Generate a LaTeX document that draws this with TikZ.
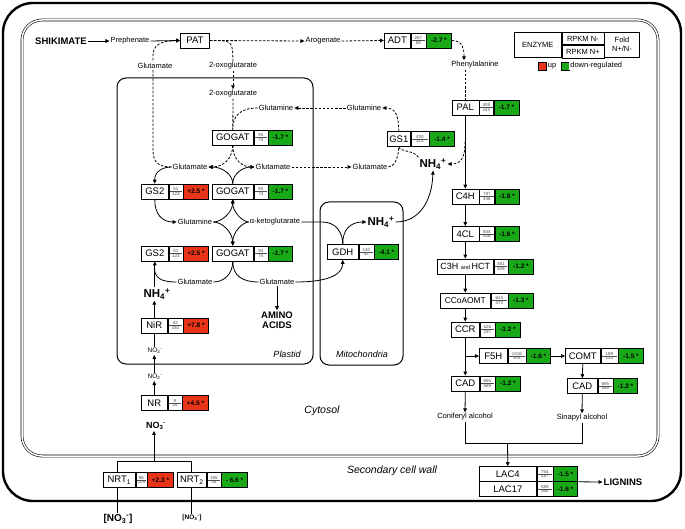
\documentclass[tikz,border=0pt]{standalone}
\usepackage{fontspec}
\setmainfont{Liberation Sans}
\usetikzlibrary{arrows.meta,positioning,calc}
\pgfdeclarelayer{bg}
\pgfsetlayers{bg,main}
\definecolor{upred}{RGB}{232,52,24}
\definecolor{dngreen}{RGB}{24,168,24}
\definecolor{numgray}{RGB}{80,80,80}
\tikzset{
 ebox/.style={draw, fill=white, line width=0.6pt, minimum height=15pt, inner sep=0pt, font=\fontsize{9.5}{10}\selectfont},
 fbox/.style={draw, line width=0.6pt, minimum height=15pt, inner sep=0pt, font=\fontsize{6.5}{7}\selectfont\bfseries},
 numt/.style={inner sep=0pt, font=\fontsize{4.5}{5}\selectfont, text=numgray},
 lbl/.style={inner sep=1pt, fill=white, font=\fontsize{7.5}{8}\selectfont},
 arr/.style={-{Triangle[length=4pt,width=3.6pt]}, line width=0.8pt},
 ln/.style={line width=0.8pt},
 dsh/.style={dash pattern=on 2.5pt off 1.6pt},
 bigb/.style={font=\fontsize{9.5}{10}\selectfont\bfseries, inner sep=1pt},
 nhb/.style={font=\fontsize{11.5}{12}\selectfont\bfseries, inner sep=1pt},
 compa/.style={font=\fontsize{9}{10}\selectfont\itshape, inner sep=1pt},
 compb/.style={font=\fontsize{10.5}{11}\selectfont\itshape, inner sep=1pt},
 legc/.style={draw, line width=0.6pt, inner sep=0pt, anchor=north west, font=\fontsize{7.5}{9}\selectfont, align=center}
}
\newcommand{\enz}[9]{%
  \node[ebox, minimum width=#4pt, anchor=west] (#1) at (#2,#3) {#7};
  \node[ebox, minimum width=#5pt, anchor=west] (#1n) at (#1.east) {};
  \node[fbox, fill=#9, minimum width=#6pt, anchor=west] (#1f) at (#1n.east) {#8};}
\newcommand{\nums}[3]{%
  \draw[line width=0.35pt, numgray] ([xshift=1.2pt]#1n.west) -- ([xshift=-1.2pt]#1n.east);
  \node[numt, anchor=south] (#1a) at ([yshift=0.5pt]#1n.center) {#2};
  \node[numt, anchor=north] (#1b) at ([yshift=-0.5pt]#1n.center) {#3};}
\newcommand{\ssb}[2]{\textsubscript{#1}\textsuperscript{#2}}
\begin{document}
\begin{tikzpicture}[x=1pt,y=-1pt]
\useasboundingbox (0,0) rectangle (685,529);

% ---------- top row ----------
\node[bigb] (shik) at (61,41) {SHIKIMATE};
\node[lbl] (preph) at (130,41) {Prephenate};
\node[ebox, minimum width=29pt] (pat) at (195,40.5) {PAT};
\node[lbl] (arog) at (323,41) {Arogenate};
\enz{adt}{384}{40.5}{26}{15}{25}{ADT}{-2.7 *}{dngreen}\nums{adt}{267}{58}
\node[lbl] (phe) at (475,65) {Phenylalanine};

% ---------- legend ----------
\node[legc, minimum width=47pt, minimum height=25pt] (legE) at (514,32) {ENZYME};
\node[legc, minimum width=42pt, minimum height=12.5pt] (legR1) at (legE.north east) {RPKM N-};
\node[legc, minimum width=42pt, minimum height=12.5pt] (legR2) at (legR1.south west) {RPKM N+};
\node[legc, minimum width=35pt, minimum height=25pt] (legF) at (legR1.north east) {Fold\\N+/N-};
\node[draw, fill=upred, minimum size=8pt, inner sep=0pt, line width=0.4pt] (squp) at (542.5,66) {};
\node[lbl, anchor=west] (uplbl) at (squp.east) {up};
\node[draw, fill=dngreen, minimum size=8pt, inner sep=0pt, line width=0.4pt] (sqdn) at (565,66) {};
\node[lbl, anchor=west] (dnlbl) at (sqdn.east) {down-regulated};

% ---------- phenylpropanoid column ----------
\enz{pal}{451.5}{107.5}{27}{14}{25}{PAL}{-1.7 *}{dngreen}\nums{pal}{409}{243}
\enz{c4h}{451.5}{196.5}{27}{15}{24}{C4H}{-1.8 *}{dngreen}\nums{c4h}{787}{446}
\enz{cl4}{451.5}{234}{27}{15}{24}{4CL}{-1.6 *}{dngreen}\nums{cl4}{834}{506}
\enz{chct}{437}{266.5}{56}{14}{25}{{\fontsize{9}{10}\selectfont C3H \fontsize{5.5}{6}\selectfont and \fontsize{9}{10}\selectfont HCT}}{-1.2 *}{dngreen}\nums{chct}{381}{309}
\enz{ccoa}{440}{300.5}{50}{17}{25}{{\fontsize{8.4}{9}\selectfont CCoAOMT}}{-1.3 *}{dngreen}\nums{ccoa}{624}{473}
\enz{ccr}{451}{329.5}{28}{15}{25}{CCR}{-1.2 *}{dngreen}\nums{ccr}{526}{437}
\enz{f5h}{479}{356}{28}{18}{24}{F5H}{-1.6 *}{dngreen}\nums{f5h}{1416}{905}
\enz{comt}{565}{356}{35}{17}{25}{COMT}{-1.5 *}{dngreen}\nums{comt}{189}{123}
\enz{cad1}{451}{383.5}{28}{15}{25}{CAD}{-1.2 *}{dngreen}\nums{cad1}{695}{589}
\enz{cad2}{567}{386}{30}{15}{24}{CAD}{-1.2 *}{dngreen}\nums{cad2}{695}{589}
\node[lbl] (conif) at (465,417) {Coniferyl alcohol};
\node[lbl] (sinap) at (582,418) {Sinapyl alcohol};
\enz{lac4}{479}{474}{57}{16}{24}{LAC4}{-1.5 *}{dngreen}\nums{lac4}{754}{487}
\enz{lac17}{479}{489}{57}{16}{24}{LAC17}{-1.6 *}{dngreen}\nums{lac17}{589}{364}
\node[bigb] (lig) at (623,482) {LIGNINS};

% ---------- nitrogen side ----------
\node[lbl] (glu0) at (155,66) {Glutamate};
\node[lbl] (oxo1) at (233,66) {2-oxoglutarate};
\node[lbl] (oxo2) at (233,94) {2-oxoglutarate};
\node[lbl] (gln1) at (276,108) {Glutamine};
\node[lbl] (gln2) at (364,108) {Glutamine};
\enz{gogat1}{212}{137.5}{41}{14}{24}{GOGAT}{-1.7 *}{dngreen}\nums{gogat1}{94}{74}
\enz{gs1}{387}{139}{23}{18}{25}{GS1}{-1.4 *}{dngreen}\nums{gs1}{430}{313}
\node[lbl] (gluL) at (190,167) {Glutamate};
\node[lbl] (gluR) at (273,167) {Glutamate};
\node[lbl] (glu3) at (370,167) {Glutamate};
\node[nhb] (nh4a) at (433,164) {NH\ssb{4}{+}};
\enz{gs2a}{141}{191.5}{27}{14}{25}{GS2}{+2.5 *}{upred}\nums{gs2a}{51}{123}
\enz{gogat2}{212}{191.5}{41}{14}{24}{GOGAT}{-1.7 *}{dngreen}\nums{gogat2}{94}{74}
\node[lbl] (gln3) at (195,222) {Glutamine};
\node[lbl] (akg) at (275,222) {α-ketoglutarate};
\node[nhb] (nh4m) at (381,222) {NH\ssb{4}{+}};
\enz{gdh}{327}{252}{31}{15}{24}{GDH}{-4.1 *}{dngreen}\nums{gdh}{140}{42}
\enz{gs2b}{141}{253.5}{27}{14}{25}{GS2}{+2.5 *}{upred}\nums{gs2b}{51}{123}
\enz{gogat3}{212}{253.5}{41}{14}{24}{GOGAT}{-1.7 *}{dngreen}\nums{gogat3}{94}{74}
\node[lbl] (gluLL) at (195,282) {Glutamate};
\node[lbl] (gluLR) at (277,282) {Glutamate};
\node[nhb] (nh4p) at (157,294) {NH\ssb{4}{+}};
\node[bigb, align=center, font=\fontsize{9.5}{10.5}\selectfont\bfseries] (aa) at (277,320) {AMINO\\ACIDS};
\enz{nir}{141}{325.5}{26}{15}{25}{NiR}{+7.8 *}{upred}\nums{nir}{42}{330}
\node[inner sep=1pt, font=\fontsize{6.5}{7}\selectfont] (no2a) at (155,351) {NO\ssb{2}{-}};
\node[inner sep=1pt, font=\fontsize{6.5}{7}\selectfont] (no2b) at (155,377) {NO\ssb{2}{-}};
\enz{nr}{141}{403}{26}{14}{26}{NR}{+4.5 *}{upred}\nums{nr}{8}{34}
\node[inner sep=1pt, font=\fontsize{9}{10}\selectfont\bfseries] (no3) at (156,426) {NO\ssb{3}{-}};
\enz{nrt1}{103}{480}{32}{11}{26}{NRT\textsubscript{1}}{+2.3 *}{upred}\nums{nrt1}{86}{209}
\enz{nrt2}{177}{480}{29}{14}{26}{NRT\textsubscript{2}}{- 6.6 *}{dngreen}\nums{nrt2}{185}{35}
\node[inner sep=1pt, font=\fontsize{10}{11}\selectfont\bfseries] (no3e1) at (118,519) {[NO\ssb{3}{-}]};
\node[inner sep=1pt, font=\fontsize{6.5}{7}\selectfont\bfseries] (no3e2) at (192,518) {[NO\ssb{3}{-}]};

% ---------- compartment labels ----------
\node[compa] (plast) at (287,354) {Plastid};
\node[compa] (mito) at (362,354) {Mitochondria};
\node[compb] (cyto) at (322,411) {Cytosol};
\node[compb] (wall) at (392,471) {Secondary cell wall};

\begin{pgfonlayer}{bg}
% frames
\draw[line width=2.4pt, rounded corners=30pt] (3,3) rectangle (681,501);
\draw[line width=0.6pt, double, double distance=1.5pt, rounded corners=20pt] (22,20) rectangle (658,456);
\draw[line width=1pt, rounded corners=9pt] (117,78) rectangle (313,364);
\draw[line width=1pt, rounded corners=9pt] (320,202) rectangle (403,365);

% top row
\draw[arr] (shik.east) -- (preph.west);
\draw[arr] (preph.east) -- (pat.west);
\draw[arr,dsh] (pat.east) -- (arog.west);
\draw[arr,dsh] (arog.east) -- (adt.west);
\draw[arr,dsh] (adtf.east) .. controls +(12,0) and +(0,-10) .. ([xshift=-11pt]phe.north);
\draw[ln,dsh] (phe.south -| pal.north) -- (pal.north);

% phenylpropanoid column
\coordinate (palmid) at (465,142);
\draw[arr] (pal.south) -- (c4h.north);
\draw[arr,dsh] (palmid) .. controls (465,156) and (462,164) .. (nh4a.east);
\draw[arr] (c4h.south) -- (cl4.north);
\draw[arr] (cl4.south) -- (chct.north);
\draw[arr] (chct.south) -- (ccoa.north);
\draw[arr] (ccoa.south) -- (ccr.north);
\draw[arr] (ccr.south) -- (cad1.north);
\coordinate (br) at (465,356);
\draw[arr] (br) -- (f5h.west);
\draw[arr] (f5hf.east) -- (comt.west);
\draw[arr] (comt.south) -- (cad2.north);
\draw[arr] (cad1.south) -- (conif.north);
\draw[arr] (cad2.south) -- (sinap.north);
\coordinate (jl) at (465,443);
\coordinate (jr) at (582,443);
\coordinate (jm) at (507.5,443);
\draw[ln] (conif.south) -- (jl) -- (jr) -- (sinap.south);
\draw[arr] (jm) -- (lac4.north);
\draw[arr] (lac4f.south east) -- (lig.west);

% PAT / glutamate / 2-oxoglutarate
\draw[arr,dsh] (gluL.west) .. controls (158,167) and (153,162) .. (153,150) -- (153,56) .. controls (153,45) and (160,41) .. (pat.west);
\draw[ln,dsh] (pat.east) .. controls (232.5,40.5) .. (oxo1.north);
\draw[arr,dsh] (oxo1.south) -- (oxo2.north);
\draw[ln,dsh] (oxo2.south) -- (gogat1.north);
\draw[ln,dsh] (gln1.west) .. controls (240,108) and (232.5,116) .. (gogat1.north);
\draw[arr,dsh] (gln2.west) -- (gln1.east);
\draw[arr,dsh] (gs1.north) .. controls (398.5,116) and (396,108) .. (gln2.east);
\draw[ln,dsh] (glu3.east) .. controls (394,167) and (398.5,158) .. (gs1.south);
\draw[ln,dsh] (nh4a.north west) .. controls (414,150) and (400,152) .. (gs1.south);
\draw[arr,dsh] (gluR.east) -- (glu3.west);

% GOGAT diamonds
\draw[arr,dsh] (gogat1.south) .. controls (232.5,160) and (222,167) .. (gluL.east);
\draw[arr,dsh] (gogat1.south) .. controls (232.5,160) and (243,167) .. (gluR.west);
\draw[arr] (gogat2.north) .. controls (232.5,174) and (222,167) .. (gluL.east);
\draw[arr] (gogat2.north) .. controls (232.5,174) and (243,167) .. (gluR.west);
\draw[arr] (gluL.west) .. controls (162,167) and (154.5,172) .. (gs2a.north);
\draw[arr] (gs2a.south) .. controls (154.5,214) and (162,222) .. (gln3.west);
\draw[arr] (gln3.east) .. controls (222,222) and (232.5,212) .. (gogat2.south);
\draw[arr] (akg.west) .. controls (243,222) and (232.5,212) .. (gogat2.south);
\draw[arr] (gln3.east) .. controls (222,222) and (232.5,232) .. (gogat3.north);
\draw[arr] (akg.west) .. controls (243,222) and (232.5,232) .. (gogat3.north);
\draw[ln] (gogat3.south) .. controls (232.5,276) and (222,282) .. (gluLL.east);
\draw[ln] (gogat3.south) .. controls (232.5,276) and (243,282) .. (gluLR.west);
\draw[arr] (nh4p.north -| gs2b.south) -- (gs2b.south);
\draw[ln] (gluLL.west) .. controls (161,282) and (154.5,278) .. (154.5,268);
\draw[arr] (gluLR.south) -- (aa.north);

% GDH
\draw[arr] (gluLR.east) .. controls (330,282) and (342.5,274) .. (gdh.south);
\draw[ln] (akg.east) -- (322,222) .. controls (336,222) and (342.5,232) .. (gdh.north);
\draw[arr] (gdh.north) .. controls (342.5,230) and (350,222) .. (nh4m.west);
\draw[arr] (nh4m.east) .. controls (420,222) and (432,200) .. (nh4a.south);

% nitrate path
\draw[arr] (nir.north) -- (nir.north |- nh4p.south);
\draw[ln] (nir.south |- no2a.north) -- (nir.south);
\draw[arr] (nir.south |- no2b.north) -- (nir.south |- no2a.south);
\draw[arr] (nr.north) -- (nr.north |- no2b.south);
\coordinate (b1) at (117,461);
\coordinate (b2) at (191,461);
\coordinate (bm) at (154,461);
\draw[ln] (b1 |- nrt1.north) -- (b1) -- (b2) -- (b2 |- nrt2.north);
\draw[arr] (bm) -- (bm |- no3.south);
\draw[ln] (b1 |- nrt1.south) -- (b1 |- no3e1.north);
\draw[ln] (b2 |- nrt2.south) -- (b2 |- no3e2.north);
\end{pgfonlayer}
\end{tikzpicture}
\end{document}
